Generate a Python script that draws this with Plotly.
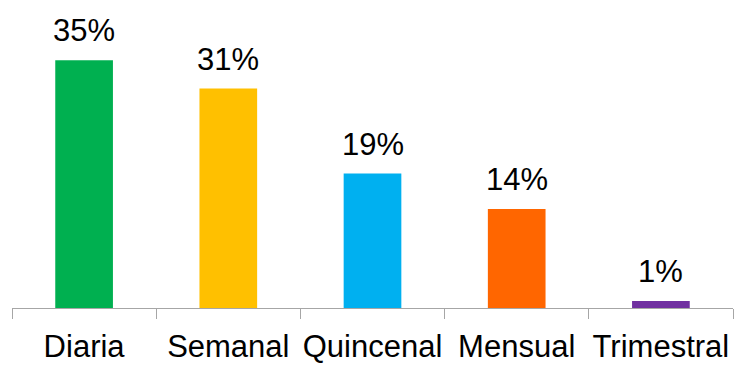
import plotly.graph_objects as go

categories = ["Diaria", "Semanal", "Quincenal", "Mensual", "Trimestral"]
values = [35, 31, 19, 14, 1]
colors = ["#00B050", "#FFC000", "#00B0F0", "#FF6600", "#7030A0"]

fig = go.Figure(
    go.Bar(
        x=categories,
        y=values,
        marker=dict(color=colors, line=dict(width=0)),
        width=0.4,
        hoverinfo="skip",
    )
)

# percentage labels above each bar
for cat, val in zip(categories, values):
    fig.add_annotation(
        x=cat, y=val, text=f"{val}%", showarrow=False,
        yanchor="bottom", yshift=10,
        font=dict(family="Liberation Sans, Arial", size=31, color="#000000"),
    )

fig.update_layout(
    width=734, height=367,
    margin=dict(l=12, r=1, t=10, b=59),
    paper_bgcolor="white", plot_bgcolor="white",
    showlegend=False,
    font=dict(family="Liberation Sans, Arial", size=31, color="#000000"),
)
fig.update_xaxes(
    type="category", range=[-0.5, 4.5],
    showline=True, linecolor="#A6A6A6", linewidth=1,
    ticks="outside", tickson="boundaries", ticklen=10, tickcolor="#A6A6A6", tickwidth=1,
    showgrid=False, zeroline=False,
    tickangle=0, automargin=False,
    ticklabelstandoff=11,
    tickfont=dict(size=31, color="#000000"),
)
fig.update_yaxes(visible=False, range=[0, 42.1], showgrid=False, zeroline=False,
                 automargin=False)

fig.write_html("out.html")
